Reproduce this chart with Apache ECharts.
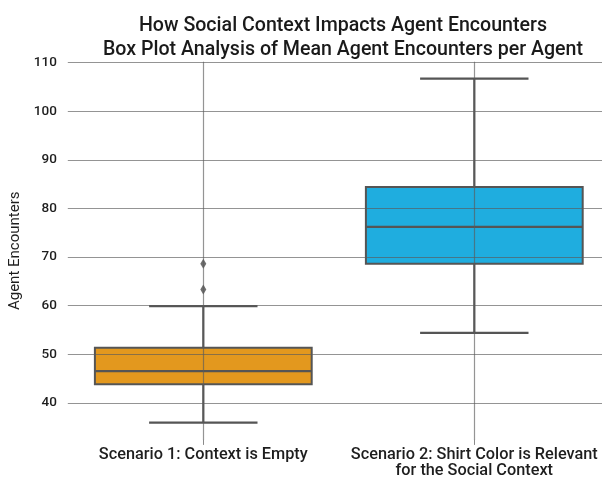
<!DOCTYPE html>
<html>
<head>
<meta charset="utf-8">
<script src="https://cdn.jsdelivr.net/npm/echarts@6/dist/echarts.min.js"></script>
<style>html,body{margin:0;padding:0;background:#fff;}#c{width:602px;height:478px;}</style>
</head>
<body>
<div id="c"></div>
<script>
// ---- data ----
const categories = ['Scenario 1: Context is Empty', 'Scenario 2: Shirt Color is Relevant\nfor the Social Context'];
// [lowerWhisker, Q1, median, Q3, upperWhisker]
const scenario1Box = [35.9, 43.8, 46.5, 51.3, 59.9];
const scenario2Box = [54.4, 68.6, 76.2, 84.4, 106.7];
const scenario1Outliers = [63.3, 68.6];
const scenario2Outliers = [];
const yTicks = [40, 50, 60, 70, 80, 90, 100, 110];

const boxColors = ['#E3981E', '#1FADDF'];
const edge = '#555555';
const gridColor = 'rgba(90,90,90,0.65)';

const boxData = [[0].concat(scenario1Box), [1].concat(scenario2Box)];
const outlierData = scenario1Outliers.map(v => [0, v]).concat(scenario2Outliers.map(v => [1, v]));

function renderBox(params, api) {
  const i = api.value(0);
  const pLo = api.coord([i, api.value(1)]);
  const pQ1 = api.coord([i, api.value(2)]);
  const pMed = api.coord([i, api.value(3)]);
  const pQ3 = api.coord([i, api.value(4)]);
  const pHi = api.coord([i, api.value(5)]);
  const band = api.size([1, 0])[0];
  const bw = band * 0.8;
  const cw = bw / 2;
  const x = pLo[0];
  const ls = { stroke: edge, lineWidth: 2.2 };
  return {
    type: 'group',
    children: [
      { type: 'line', shape: { x1: x, y1: pLo[1], x2: x, y2: pQ1[1] }, style: ls },
      { type: 'line', shape: { x1: x, y1: pQ3[1], x2: x, y2: pHi[1] }, style: ls },
      { type: 'line', shape: { x1: x - cw / 2, y1: pLo[1], x2: x + cw / 2, y2: pLo[1] }, style: ls },
      { type: 'line', shape: { x1: x - cw / 2, y1: pHi[1], x2: x + cw / 2, y2: pHi[1] }, style: ls },
      { type: 'rect', shape: { x: x - bw / 2, y: pQ3[1], width: bw, height: pQ1[1] - pQ3[1] },
        style: { fill: boxColors[i], stroke: edge, lineWidth: 2 } },
      { type: 'line', shape: { x1: x - bw / 2, y1: pMed[1], x2: x + bw / 2, y2: pMed[1] }, style: ls }
    ]
  };
}

const chart = echarts.init(document.getElementById('c'), null, { renderer: 'canvas' });
chart.setOption({
  animation: false,
  backgroundColor: '#ffffff',
  title: {
    text: 'How Social Context Impacts Agent Encounters\nBox Plot Analysis of Mean Agent Encounters per Agent',
    left: 338,
    top: 9,
    textAlign: 'center',
    textStyle: { fontFamily: 'Roboto', fontSize: 19.6, fontWeight: 500, color: '#1a1a1a', lineHeight: 24 }
  },
  grid: { left: 67.8, top: 61.7, width: 542, height: 378.2, containLabel: false, outerBoundsMode: 'none' },
  xAxis: {
    type: 'category',
    data: categories,
    boundaryGap: true,
    axisLine: { show: false },
    axisTick: { show: true, alignWithLabel: true, interval: 0, length: 5, lineStyle: { color: '#8a8a8a', width: 1 } },
    splitLine: { show: false },
    axisLabel: { interval: 0, hideOverlap: false, color: '#1e1e1e', fontFamily: 'Roboto', fontSize: 16.3, fontWeight: 500, margin: 7, lineHeight: 16 }
  },
  yAxis: {
    type: 'value',
    min: 32.36,
    max: 110.19,
    splitNumber: 8,
    axisLine: { show: false },
    axisTick: { show: false },
    splitLine: { show: false },
    axisLabel: {
      color: '#1e1e1e', fontFamily: 'Roboto', fontSize: 13.5, fontWeight: 500, margin: 11,
      formatter: v => (yTicks.indexOf(Math.round(v * 100) / 100) >= 0 ? String(v) : '')
    },
    name: 'Agent Encounters',
    nameLocation: 'middle',
    nameGap: 42,
    nameTextStyle: { color: '#1e1e1e', fontFamily: 'Roboto', fontSize: 15 }
  },
  series: [
    {
      type: 'custom',
      renderItem: renderBox,
      data: boxData,
      encode: { x: 0, y: [1, 2, 3, 4, 5] },
      z: 2,
      silent: true
    },
    {
      type: 'scatter',
      data: outlierData,
      symbol: 'diamond',
      symbolSize: [6, 10],
      itemStyle: { color: '#4a4a4a' },
      z: 4,
      silent: true,
      markLine: {
        silent: true,
        symbol: 'none',
        label: { show: false },
        lineStyle: { color: gridColor, width: 1.2, type: 'solid' },
        data: yTicks.map(v => ({ yAxis: v })).concat(categories.map((c, i) => ({ xAxis: i })))
      }
    }
  ]
});
</script>
</body>
</html>
